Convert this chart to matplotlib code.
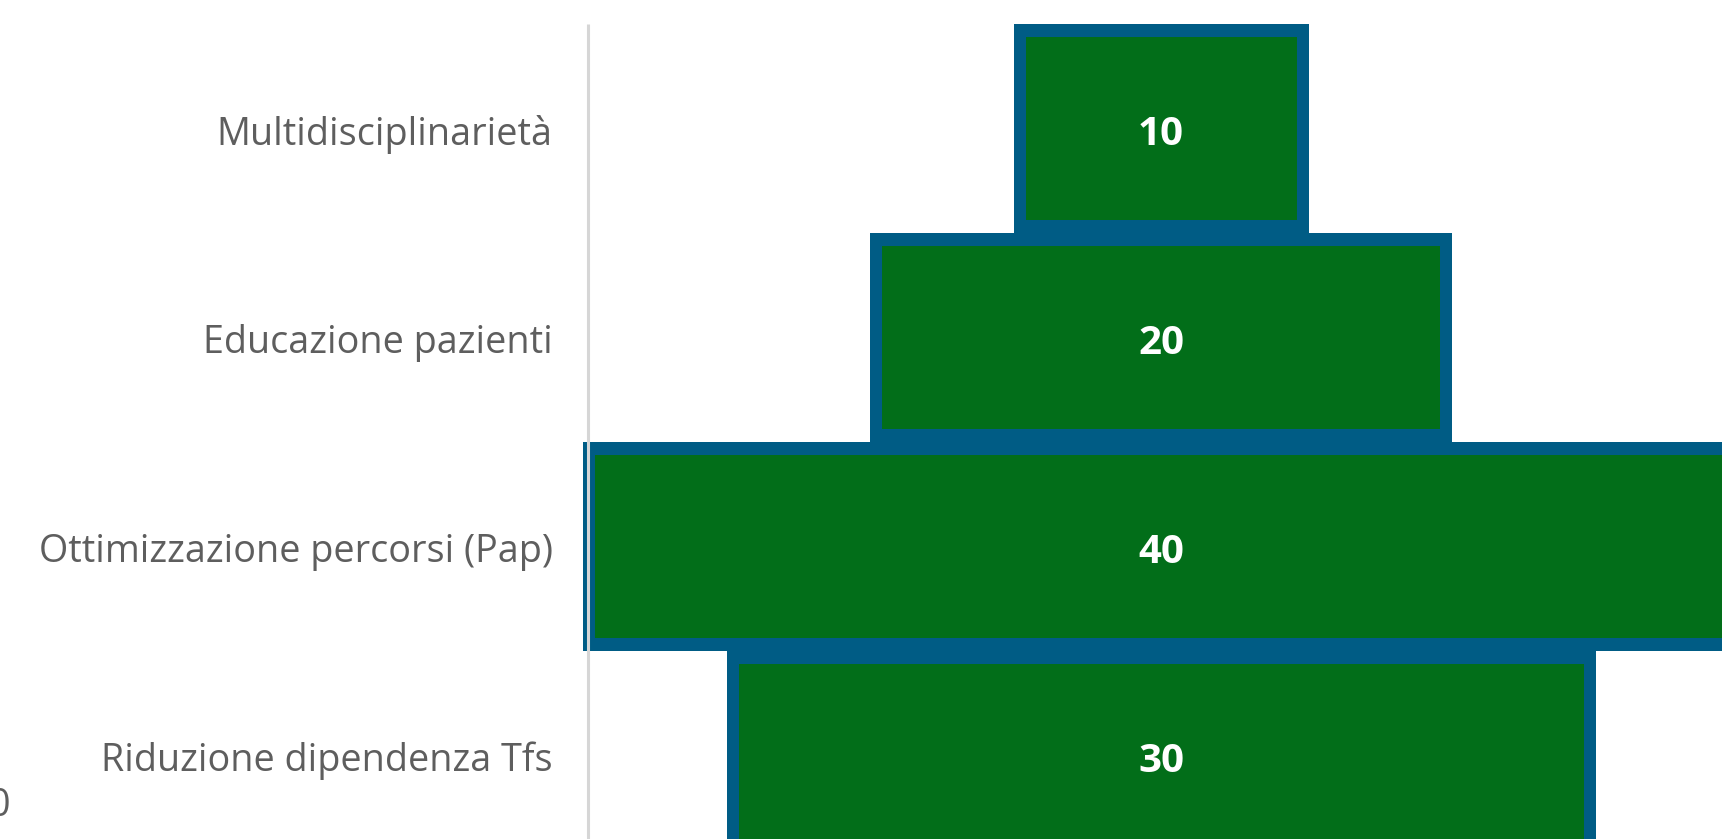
import matplotlib
matplotlib.use('Agg')
import matplotlib.pyplot as plt

# dati del funnel (dall'alto verso il basso)
categorie = ['Multidisciplinarietà', 'Educazione pazienti', 'Ottimizzazione percorsi (Pap)', 'Riduzione dipendenza Tfs']
valori = [10, 20, 40, 30]

verde = '#026e19'
blu = '#005c85'
grigio_testo = '#5e5e5e'

W, H = 1722, 839
px_unit = 28.7      # pixel per unità sull'asse x
centro_px = 1161
bar_px = 209
top_px = 128.5

fig = plt.figure(figsize=(W / 100, H / 100), dpi=100)
ax = fig.add_axes([0, 0, 1, 1])
ax.set_xlim(-centro_px / px_unit, (W - centro_px) / px_unit)
ax.set_ylim((H - top_px) / bar_px, -top_px / bar_px)
ax.axis('off')

y = list(range(len(valori)))
extra = 8 / px_unit         # piccolo margine esterno del bordo
bordo_x = 12 / px_unit
bordo_y = 13 / bar_px

larg = [v + extra for v in valori]
# bordo blu interno + riempimento verde
ax.barh(y, larg, left=[-l / 2 for l in larg], height=1, color=blu, linewidth=0)
ax.barh(y, [l - 2 * bordo_x for l in larg], left=[-l / 2 + bordo_x for l in larg],
        height=1 - 2 * bordo_y, color=verde, linewidth=0)

# linea grigia dell'asse categorie
x_linea = -(max(valori) + extra) / 2 + 4.5 / px_unit
ax.plot([x_linea, x_linea], [-0.5, ax.get_ylim()[0]], color='#d6d6d6', lw=2.2,
        solid_capstyle='butt', zorder=5)

for yi, cat, v in zip(y, categorie, valori):
    ax.annotate(cat, (x_linea, yi), xytext=(-25, -4), textcoords='offset points',
                ha='right', va='center', fontsize=27.2, color=grigio_testo, family='Open Sans')
    ax.annotate(str(v), (0, yi), xytext=(0, -4), textcoords='offset points',
                ha='center', va='center', fontsize=29, color='white',
                fontweight='bold', family='Open Sans')

fig.text(10 / W, 1 - 806 / H, '0', ha='right', va='center', fontsize=27.2, color=grigio_testo,
         family='Open Sans')

fig.savefig('out.png', dpi=100)
